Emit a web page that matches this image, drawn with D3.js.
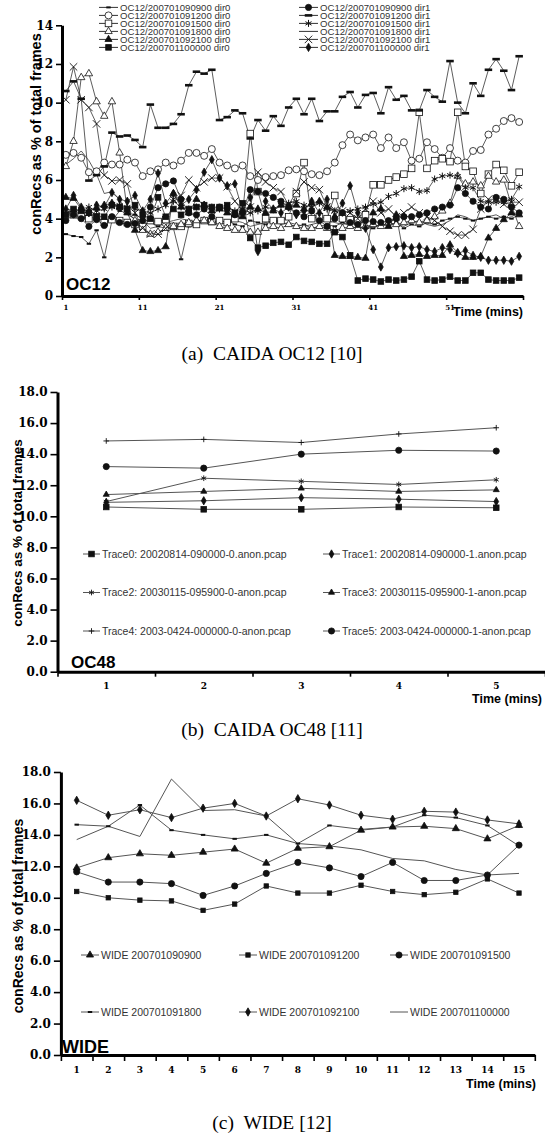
<!DOCTYPE html>
<html>
<head>
<meta charset="utf-8">
<script src="https://cdn.jsdelivr.net/npm/d3@7"></script>
<style>
  body { margin: 0; background: #fff; }
  svg { display: block; }
</style>
</head>
<body>
<svg id="fig" width="545" height="1136"></svg>
<script>
// ---------- (a) CAIDA OC12 ----------
const oc12Minutes = [1,2,3,4,5,6,7,8,9,10,11,12,13,14,15,16,17,18,19,20,
  21,22,23,24,25,26,27,28,29,30,31,32,33,34,35,36,37,38,39,40,
  41,42,43,44,45,46,47,48,49,50,51,52,53,54,55,56,57,58,59,60];
const oc12XLabels = [1, 11, 21, 31, 41, 51];
const oc12YTicks = [0, 2, 4, 6, 8, 10, 12, 14];

const oc12_0900_dir0 = [3.2,3.1,3.05,2.7,3.4,2.0,3.9,4.4,4.3,4.2,4.0,3.8,3.6,3.5,3.5,1.9,3.6,3.7,3.9,3.8,
  3.8,3.9,3.7,3.6,3.9,3.8,3.7,3.9,3.8,3.7,3.6,3.7,3.5,3.6,3.7,3.6,3.8,3.6,3.5,3.6,
  3.5,3.7,3.6,3.8,3.5,3.7,3.6,3.8,3.7,3.9,4.0,4.1,4.0,3.9,4.0,4.1,4.0,4.1,4.0,4.2];
const oc12_1200_dir0 = [7.3,7.4,7.15,6.4,6.45,6.9,6.8,6.8,7.05,6.9,6.2,6.45,6.55,6.9,6.75,7.0,7.4,7.4,7.25,7.6,
  6.9,6.75,6.6,6.75,6.2,6.0,6.15,6.2,6.25,6.5,6.55,6.45,6.3,6.25,6.45,6.9,7.8,8.35,8.05,8.2,
  8.35,7.65,8.2,7.65,7.95,7.0,7.1,7.95,7.6,7.15,7.65,7.0,6.9,7.5,7.55,8.35,8.65,9.05,9.2,9.0];
const oc12_1500_dir0 = [4.3,4.2,4.15,4.0,4.1,3.8,3.95,3.9,3.8,3.7,3.6,3.9,3.85,3.95,3.6,3.6,3.75,3.7,3.9,3.85,
  3.9,3.8,4.0,4.2,8.4,5.4,4.0,3.9,3.9,4.1,5.3,6.9,4.0,4.1,4.0,5.2,4.0,3.95,3.9,4.2,
  5.75,5.75,6.0,6.15,6.3,6.6,9.5,6.6,7.0,7.1,6.95,9.5,6.7,6.45,5.3,6.3,6.8,6.5,5.7,6.4];
const oc12_1800_dir0 = [6.7,8.0,11.3,11.5,10.05,9.3,10.05,7.4,4.4,3.9,3.4,3.2,3.3,3.5,3.6,3.7,3.8,3.9,3.9,3.8,
  3.6,3.5,3.4,3.4,3.3,3.3,3.5,3.6,3.5,3.7,3.6,3.5,3.5,3.6,3.5,3.4,3.5,3.6,3.5,3.6,
  3.7,3.6,3.8,3.7,3.8,3.9,3.8,3.9,4.1,4.4,4.8,6.2,5.8,5.9,5.7,6.2,5.9,6.0,4.7,3.6];
const oc12_2100_dir0 = [5.1,5.05,4.5,4.4,4.55,4.7,4.8,4.6,4.3,3.4,2.35,2.3,2.35,2.55,5.3,4.6,4.3,5.0,4.7,4.4,
  4.5,4.3,4.2,4.1,4.6,4.5,4.3,4.4,4.7,4.6,4.7,4.5,4.8,4.9,4.6,2.1,2.05,2.05,2.0,1.95,
  4.3,4.5,3.6,4.2,2.05,2.1,2.15,2.05,2.1,2.1,2.65,2.25,2.0,2.0,2.05,3.0,3.5,3.95,4.3,4.2];
const oc12_0000_dir0 = [4.2,4.5,4.4,4.3,4.1,4.1,4.7,4.6,4.5,4.7,4.2,4.0,5.1,4.1,4.5,4.2,4.5,4.6,4.7,4.6,
  4.6,4.7,4.3,4.8,3.0,2.5,2.6,2.75,2.8,2.65,3.05,2.85,2.8,2.7,2.7,3.3,3.05,2.1,0.8,0.9,
  0.85,0.75,0.85,0.8,0.85,1.0,1.8,0.85,0.8,0.85,1.0,0.8,0.8,1.2,1.2,0.85,0.8,0.8,0.8,0.95];
const oc12_0900_dir1 = [3.9,4.2,4.0,3.6,3.95,3.65,4.1,3.8,3.7,3.75,3.9,4.6,5.6,5.8,5.95,5.0,4.3,4.2,4.5,4.1,
  4.6,4.5,4.2,4.3,5.5,5.4,5.3,5.1,4.9,4.6,4.3,4.1,4.4,3.9,3.6,4.0,4.3,3.8,3.7,3.9,
  3.85,3.8,3.9,4.0,4.1,4.1,4.2,4.3,4.5,4.6,4.7,5.6,5.3,4.9,4.6,4.5,5.1,5.0,4.6,4.3];
const oc12_1200_dir1 = [10.6,11.1,10.2,5.97,6.25,6.7,8.45,8.25,8.3,8.07,7.7,9.9,8.7,8.7,8.9,9.4,10.9,11.6,11.5,11.7,
  9.1,9.25,9.6,9.45,8.15,9.1,8.55,9.3,8.8,9.75,10.2,9.4,10.2,9.05,9.55,9.55,10.3,10.55,9.75,10.4,
  10.5,9.45,10.8,10.15,10.35,9.6,9.6,10.65,10.3,10.05,12.15,10.0,9.45,11.0,10.35,11.7,12.25,11.65,10.65,12.4];
const oc12_1500_dir1 = [4.3,4.4,4.5,4.6,4.4,4.5,4.6,4.7,4.6,4.5,4.4,4.3,4.5,4.7,4.9,4.6,4.5,4.6,4.7,4.6,
  4.5,4.6,4.4,4.5,4.3,4.4,4.6,4.5,4.7,4.8,4.9,4.7,4.6,4.8,4.5,4.4,4.3,4.4,4.5,4.6,
  4.75,4.85,5.15,5.3,5.55,5.6,5.4,5.45,6.05,6.2,6.25,6.2,5.6,5.6,4.9,4.85,4.85,4.85,5.0,5.65];
const oc12_1800_dir1 = [6.8,7.1,7.5,7.0,6.3,5.3,5.4,5.0,4.2,4.0,3.9,3.5,3.6,3.8,3.9,4.0,3.9,3.8,4.0,3.9,
  3.8,3.7,3.9,3.8,3.6,3.7,3.8,3.9,3.7,3.8,3.7,3.6,3.7,3.8,3.9,3.8,3.7,3.8,3.6,3.5,
  3.7,3.6,3.8,3.7,3.6,3.8,3.9,3.7,3.6,3.7,3.9,4.2,4.1,3.9,4.0,4.1,4.2,4.0,4.1,4.3];
const oc12_2100_dir1 = [10.15,11.85,10.15,9.75,8.9,6.25,5.95,6.0,5.8,4.3,3.5,3.2,3.2,3.5,5.0,5.2,6.0,5.6,5.9,6.1,
  6.1,5.65,4.9,4.4,4.6,6.4,5.9,5.6,5.4,4.7,5.4,5.9,5.6,5.5,4.6,4.45,4.4,4.3,4.0,4.5,
  4.9,4.3,4.5,4.1,4.3,4.6,4.3,4.1,3.9,3.6,3.35,3.15,3.15,3.45,4.5,5.0,5.0,4.75,4.85,4.85];
const oc12_0000_dir1 = [4.5,5.2,4.6,4.3,4.7,4.6,5.35,5.0,4.9,5.2,4.4,5.0,6.35,4.8,5.3,4.7,5.0,5.5,6.4,7.05,
  6.1,5.7,5.8,4.4,5.1,2.3,4.9,4.5,4.3,4.6,4.2,4.4,4.9,4.3,5.0,4.1,4.8,5.7,4.3,3.5,
  2.4,1.5,2.5,2.55,2.6,2.5,2.55,2.4,2.3,2.5,2.4,2.2,2.35,2.1,2.0,1.85,1.85,1.85,1.8,2.05];

// ---------- (b) CAIDA OC48 ----------
const oc48Minutes = [1, 2, 3, 4, 5];
const oc48YTicks = [0, 2, 4, 6, 8, 10, 12, 14, 16, 18];
const oc48_trace0 = [10.6, 10.45, 10.45, 10.6, 10.55];
const oc48_trace1 = [10.9, 11.0, 11.2, 11.1, 10.95];
const oc48_trace2 = [10.95, 12.45, 12.25, 12.05, 12.35];
const oc48_trace3 = [11.4, 11.6, 11.8, 11.6, 11.7];
const oc48_trace4 = [14.85, 14.95, 14.75, 15.3, 15.7];
const oc48_trace5 = [13.2, 13.1, 14.0, 14.25, 14.2];

// ---------- (c) WIDE ----------
const wideMinutes = [1,2,3,4,5,6,7,8,9,10,11,12,13,14,15];
const wideYTicks = [0, 2, 4, 6, 8, 10, 12, 14, 16, 18];
const wide_0900 = [11.9, 12.55, 12.8, 12.7, 12.9, 13.1, 12.2, 13.15, 13.25, 14.3, 14.5, 14.55, 14.4, 13.75, 14.6];
const wide_1200 = [10.4, 10.0, 9.85, 9.8, 9.2, 9.6, 10.75, 10.3, 10.3, 10.8, 10.4, 10.2, 10.35, 11.2, 10.3];
const wide_1500 = [11.65, 11.0, 11.0, 10.9, 10.15, 10.75, 11.55, 12.25, 11.9, 11.35, 12.25, 11.1, 11.1, 11.45, 13.35];
const wide_1800 = [14.65, 14.55, 15.9, 14.3, 14.0, 13.75, 14.0, 13.45, 14.6, 14.35, 14.5, 15.25, 15.1, 14.6, 13.3];
const wide_2100 = [16.2, 15.25, 15.6, 15.1, 15.7, 16.0, 15.2, 16.3, 15.9, 15.25, 15.0, 15.5, 15.45, 14.95, 14.7];
const wide_0000 = [13.7, 14.55, 13.9, 17.55, 15.55, 15.6, 15.2, 13.45, 13.3, 13.05, 12.5, 12.35, 11.8, 11.45, 11.55];

const svg = d3.select('#fig');
svg.append('rect').attr('width', 545).attr('height', 1136).attr('fill', '#fff');

const sym = (type, size) => d3.symbol().type(type).size(size)();

// one marker of the given kind
function addMark(g, kind, x, y) {
  const ink = '#111';
  if (kind === 'none') return;
  if (kind === 'circleOpen' || kind === 'circle') {
    g.append('circle').attr('cx', x).attr('cy', y).attr('r', kind === 'circle' ? 3.1 : 3.5)
      .attr('fill', kind === 'circle' ? ink : '#fff').attr('stroke', ink).attr('stroke-width', 0.8);
  } else if (kind === 'squareOpen' || kind === 'square' || kind === 'squareSmall') {
    const s = kind === 'squareOpen' ? 6.6 : kind === 'square' ? 5.6 : 4.4;
    g.append('rect').attr('x', x - s / 2).attr('y', y - s / 2).attr('width', s).attr('height', s)
      .attr('fill', kind === 'squareOpen' ? '#fff' : ink).attr('stroke', ink).attr('stroke-width', 0.8);
  } else if (kind === 'dash' || kind === 'dashSmall') {
    const w = kind === 'dash' ? 7.5 : 4.4, h = kind === 'dash' ? 2.6 : 2.0;
    g.append('rect').attr('x', x - w / 2).attr('y', y - h / 2).attr('width', w).attr('height', h).attr('fill', ink);
  } else {
    let d, fill = ink, stroke = ink, sw = 0.8;
    if (kind === 'triOpen') { d = sym(d3.symbolTriangle, 24); fill = '#fff'; }
    else if (kind === 'tri') d = sym(d3.symbolTriangle, 22);
    else if (kind === 'triSmall') d = sym(d3.symbolTriangle, 16);
    else if (kind === 'diamond') d = sym(d3.symbolDiamond, 20);
    else if (kind === 'star') { d = sym(d3.symbolAsterisk, 34); fill = 'none'; sw = 1; }
    else if (kind === 'starSmall') { d = sym(d3.symbolAsterisk, 22); fill = 'none'; sw = 0.9; }
    else if (kind === 'times') { d = sym(d3.symbolTimes, 38); fill = 'none'; sw = 0.9; }
    else if (kind === 'plus') { d = sym(d3.symbolPlus, 12); fill = 'none'; sw = 0.9; }
    g.append('path').attr('d', d).attr('transform', `translate(${x},${y})`)
      .attr('fill', fill).attr('stroke', stroke).attr('stroke-width', sw);
  }
}

function legendItem(g, x, y, len, kind, text, color, size) {
  g.append('line').attr('x1', x).attr('x2', x + len).attr('y1', y).attr('y2', y)
    .attr('stroke', color).attr('stroke-width', 1);
  addMark(g, kind, x + len / 2, y);
  g.append('text').attr('x', x + len + 2).attr('y', y).attr('dy', '0.36em')
    .attr('font-family', 'Liberation Sans, Arial, sans-serif').attr('font-size', size)
    .attr('fill', '#333').text(text);
}

// axes, lines and markers of one panel
function drawPanel(p) {
  const g = svg.append('g');
  const x = d3.scaleBand().domain(p.cats).range(p.xRange);
  const xEdge = d3.scaleLinear().domain([0, p.cats.length]).range(p.xRange);
  const y = d3.scaleLinear().domain([0, p.yMax]).range(p.yRange);
  const cx = d => x(d) + x.bandwidth() / 2;

  const line = d3.line().x((v, i) => cx(p.cats[i])).y(v => y(v));
  p.series.forEach(s => {
    g.append('path').datum(s.values).attr('d', line)
      .attr('fill', 'none').attr('stroke', p.lineColor).attr('stroke-width', p.lineWidth);
  });
  p.series.forEach(s => {
    const mg = g.append('g');
    s.values.forEach((v, i) => addMark(mg, s.mark, cx(p.cats[i]), y(v)));
  });

  // y axis
  const ya = g.append('g').attr('transform', `translate(${p.xRange[0]},0)`)
    .call(d3.axisLeft(y).tickValues(p.yTicks).tickFormat(p.yFormat)
      .tickSize(p.yTickSize).tickSizeOuter(0).tickPadding(3));
  ya.select('.domain').attr('stroke-width', 3).attr('stroke', '#000');
  ya.selectAll('.tick line').attr('stroke-width', 1.6);
  ya.selectAll('.tick text').attr('font-family', 'DejaVu Serif, serif').attr('font-weight', 'bold')
    .attr('font-size', p.yFont).attr('fill', '#000');

  // x axis: ticks on band edges, labels on band centres
  const y0 = p.yRange[0];
  const xa = g.append('g').attr('transform', `translate(0,${y0})`)
    .call(d3.axisBottom(xEdge).tickValues(p.edgeTicks).tickFormat('').tickSize(p.xTickSize).tickSizeOuter(0));
  xa.select('.domain').attr('stroke-width', 3).attr('stroke', '#000');
  xa.selectAll('.tick line').attr('stroke-width', 1.6);
  const xl = g.append('g').attr('transform', `translate(0,${y0})`)
    .call(d3.axisBottom(x).tickValues(p.xLabels).tickSize(0).tickPadding(p.xPad));
  xl.select('.domain').remove();
  xl.selectAll('.tick text').attr('font-family', 'DejaVu Serif, serif').attr('font-weight', 'bold')
    .attr('font-size', p.xFont).attr('fill', '#000');

  g.append('text').attr('x', p.timeX).attr('y', p.timeY).attr('text-anchor', 'end')
    .attr('font-family', 'Liberation Sans, Arial, sans-serif').attr('font-weight', 'bold')
    .attr('font-size', 12.5).text('Time (mins)');

  g.append('text').attr('transform', `translate(${p.titleX},${p.titleY}) rotate(-90)`)
    .attr('text-anchor', 'middle').attr('font-family', 'Liberation Sans, Arial, sans-serif')
    .attr('font-weight', 'bold').attr('font-size', p.titleFont).text('conRecs as % of total frames');

  g.append('text').attr('x', p.tagX).attr('y', p.tagY)
    .attr('font-family', 'Liberation Sans, Arial, sans-serif').attr('font-weight', 'bold')
    .attr('font-size', p.tagFont).text(p.tag);

  g.append('text').attr('x', 272).attr('y', p.capY).attr('text-anchor', 'middle')
    .attr('font-family', 'Liberation Serif, Times New Roman, serif').attr('font-size', 19.5)
    .attr('xml:space', 'preserve').style('white-space', 'pre').text(p.caption);
  return g;
}

// ---------- panel (a)
const oc12Names = ['OC12/200701090900 dir0', 'OC12/200701091200 dir0', 'OC12/200701091500 dir0',
  'OC12/200701091800 dir0', 'OC12/200701092100 dir0', 'OC12/200701100000 dir0',
  'OC12/200701090900 dir1', 'OC12/200701091200 dir1', 'OC12/200701091500 dir1',
  'OC12/200701091800 dir1', 'OC12/200701092100 dir1', 'OC12/200701100000 dir1'];
const oc12Values = [oc12_0900_dir0, oc12_1200_dir0, oc12_1500_dir0, oc12_1800_dir0, oc12_2100_dir0, oc12_0000_dir0,
  oc12_0900_dir1, oc12_1200_dir1, oc12_1500_dir1, oc12_1800_dir1, oc12_2100_dir1, oc12_0000_dir1];
const oc12Marks = ['dashSmall', 'circleOpen', 'squareOpen', 'triOpen', 'tri', 'square',
  'circle', 'dash', 'star', 'none', 'times', 'diamond'];

drawPanel({
  cats: oc12Minutes, xRange: [62, 523], yRange: [296, 25.3], yMax: 14,
  yTicks: oc12YTicks, yFormat: d3.format('d'), yTickSize: 6, yFont: 12,
  edgeTicks: [0, 10, 20, 30, 40, 50, 60], xTickSize: 4, xLabels: oc12XLabels, xPad: 9, xFont: 7,
  series: oc12Values.map((v, i) => ({ values: v, mark: oc12Marks[i] })),
  lineColor: '#333', lineWidth: 0.8,
  timeX: 523, timeY: 316, titleX: 41, titleY: 134, titleFont: 14.5,
  tag: 'OC12', tagX: 66, tagY: 290, tagFont: 17,
  caption: '(a)  CAIDA OC12 [10]', capY: 360
});
const legA = svg.append('g');
oc12Names.forEach((n, i) => {
  const col = i < 6 ? 0 : 1, row = i % 6;
  legendItem(legA, col ? 299 : 99, 7.4 + row * 8.0, 19, oc12Marks[i], n, '#333', 9.6);
});

// ---------- panel (b)
const oc48Names = ['Trace0: 20020814-090000-0.anon.pcap', 'Trace1: 20020814-090000-1.anon.pcap',
  'Trace2: 20030115-095900-0-anon.pcap', 'Trace3: 20030115-095900-1-anon.pcap',
  'Trace4: 2003-0424-000000-0-anon.pcap', 'Trace5: 2003-0424-000000-1-anon.pcap'];
const oc48Values = [oc48_trace0, oc48_trace1, oc48_trace2, oc48_trace3, oc48_trace4, oc48_trace5];
const oc48Marks = ['square', 'diamond', 'starSmall', 'triSmall', 'plus', 'circle'];

drawPanel({
  cats: oc48Minutes, xRange: [57.5, 545], yRange: [671.7, 392], yMax: 18,
  yTicks: oc48YTicks, yFormat: d3.format('.1f'), yTickSize: 7, yFont: 12,
  edgeTicks: [0, 1, 2, 3, 4, 5], xTickSize: 5, xLabels: oc48Minutes, xPad: 10.5, xFont: 9,
  series: oc48Values.map((v, i) => ({ values: v, mark: oc48Marks[i] })),
  lineColor: '#555', lineWidth: 1,
  timeX: 542, timeY: 703, titleX: 22, titleY: 533, titleFont: 13.5,
  tag: 'OC48', tagX: 71, tagY: 668, tagFont: 17,
  caption: '(b)  CAIDA OC48 [11]', capY: 736
});
const legB = svg.append('g');
oc48Names.forEach((n, i) => {
  const col = i % 2, row = Math.floor(i / 2);
  legendItem(legB, col ? 323 : 83, 554 + row * 38.5, 17, oc48Marks[i], n, '#555', 10.5);
});

// ---------- panel (c)
const wideNames = ['WIDE 200701090900', 'WIDE 200701091200', 'WIDE 200701091500',
  'WIDE 200701091800', 'WIDE 200701092100', 'WIDE 200701100000'];
const wideValues = [wide_0900, wide_1200, wide_1500, wide_1800, wide_2100, wide_0000];
const wideMarks = ['tri', 'squareSmall', 'circle', 'dashSmall', 'diamond', 'none'];

drawPanel({
  cats: wideMinutes, xRange: [60.9, 534.8], yRange: [1055, 772], yMax: 18,
  yTicks: wideYTicks, yFormat: d3.format('.1f'), yTickSize: 7, yFont: 12,
  edgeTicks: [0,1,2,3,4,5,6,7,8,9,10,11,12,13,14,15], xTickSize: 6, xLabels: wideMinutes, xPad: 12, xFont: 9,
  series: wideValues.map((v, i) => ({ values: v, mark: wideMarks[i] })),
  lineColor: '#555', lineWidth: 1,
  timeX: 536, timeY: 1088, titleX: 23, titleY: 916, titleFont: 14,
  tag: 'WIDE', tagX: 62, tagY: 1053, tagFont: 18,
  caption: '(c)  WIDE [12]', capY: 1129
});
const legC = svg.append('g');
wideNames.forEach((n, i) => {
  const col = i % 3, row = Math.floor(i / 3);
  legendItem(legC, [81, 239, 390][col], 955 + row * 57, 18, wideMarks[i], n, '#555', 10.5);
});
</script>
</body>
</html>
